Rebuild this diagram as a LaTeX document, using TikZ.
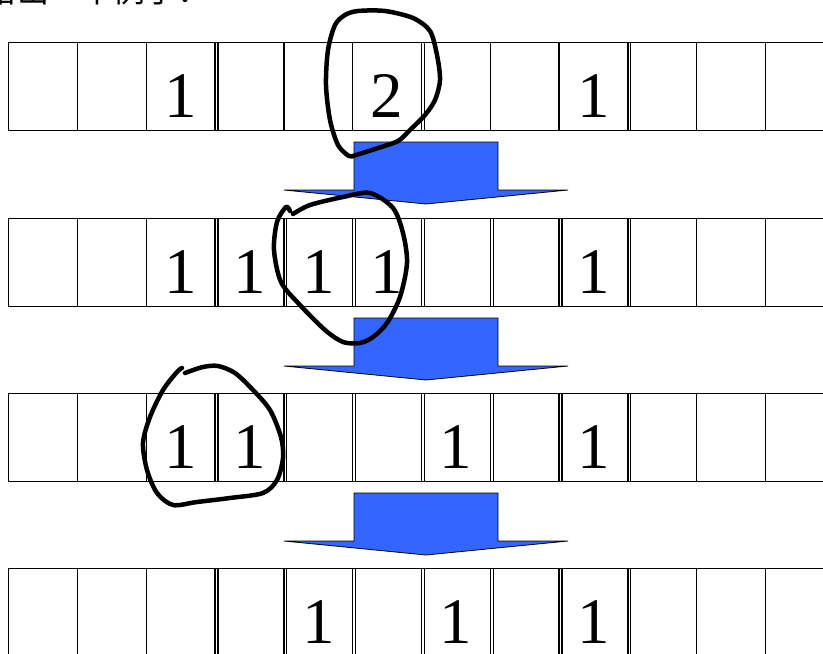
\documentclass[tikz,border=0pt]{standalone}
\usepackage{fontspec}
\setmainfont{Liberation Serif}
\newfontfamily\cjkfont{Noto Sans CJK SC}
\definecolor{arrowblue}{HTML}{3366FF}
\begin{document}
\begin{tikzpicture}[x=1pt,y=-1pt,
  cell/.style={draw,line width=1.4pt,minimum width=68.8pt,minimum height=88pt,inner sep=0pt,anchor=north west},
  seam/.style={line width=1.1pt},
  digit/.style={font=\fontsize{65}{65}\selectfont,anchor=base,yshift=-31pt},
  shiftarrow/.style={fill=arrowblue,draw=black,line width=0.8pt,line join=miter},
  ring/.style={line width=4.5pt,line cap=round,line join=round}]
\useasboundingbox (0,0) rectangle (823,654);
\clip (0,0) rectangle (823,654);
% caption, cut off at the top
\node[anchor=base west,inner sep=0pt,font=\cjkfont\fontsize{32}{32}\selectfont] (caption) at (-15,2) {给出一个例子：};
% rows of cells
\foreach \r/\t in {1/42,2/218,3/393,4/568}
  \foreach \k in {0,...,11}
    \node[cell] (c\r-\k) at ({8+68.8*\k},\t) {};
% double seams
\foreach \k in {3,6,9}
  \draw[seam] ([xshift=3.6pt]c1-\k.north west) -- ([xshift=3.6pt]c1-\k.south west);
\foreach \r in {2,3,4}
  \foreach \k in {3,...,9}
    \draw[seam] ([xshift=3.6pt]c\r-\k.north west) -- ([xshift=3.6pt]c\r-\k.south west);
% counts
\node[digit] (d1a) at (c1-2.center) {1};
\node[digit] (d1b) at (c1-5.center) {2};
\node[digit] (d1c) at (c1-8.center) {1};
\node[digit] (d2a) at (c2-2.center) {1};
\node[digit] (d2b) at (c2-3.center) {1};
\node[digit] (d2c) at (c2-4.center) {1};
\node[digit] (d2d) at (c2-5.center) {1};
\node[digit] (d2e) at (c2-8.center) {1};
\node[digit] (d3a) at (c3-2.center) {1};
\node[digit] (d3b) at (c3-3.center) {1};
\node[digit] (d3c) at (c3-6.center) {1};
\node[digit] (d3d) at (c3-8.center) {1};
\node[digit] (d4a) at (c4-4.center) {1};
\node[digit] (d4b) at (c4-6.center) {1};
\node[digit] (d4c) at (c4-8.center) {1};
% block arrows between rows
\foreach \t in {142,318,493}
  \draw[shiftarrow] (354,\t) -- (498,\t) -- (498,{\t+48}) -- (568,{\t+48})
    -- (426,{\t+62}) -- (284,{\t+48}) -- (354,{\t+48}) -- cycle;
% hand-drawn rings
\draw[ring] plot[smooth cycle] coordinates {(358,11) (385,11) (413,18) (430,31) (437,55)
  (440,80) (435,100) (425,115) (410,130) (398,141) (378,148) (356,155) (349,156)
  (338,145) (330,120) (326,85) (328,50) (335,25) (345,15)};
\draw[ring] plot[smooth] coordinates {(293,214) (310,205) (343,197) (370,193) (393,208)
  (403,233) (407,263) (400,297) (387,323) (373,337) (360,343) (343,342) (325,330)
  (300,305) (281,282) (274,250) (277,222) (286,207) (290,211)};
\draw[ring] plot[smooth] coordinates {(185,373) (203,367) (218,366) (235,373) (253,390)
  (270,410) (281,437) (283,458) (277,480) (263,493) (230,498) (197,502) (173,505)
  (157,493) (147,470) (143,443) (150,417) (163,390) (177,372) (182,368)};
\end{tikzpicture}
\end{document}
